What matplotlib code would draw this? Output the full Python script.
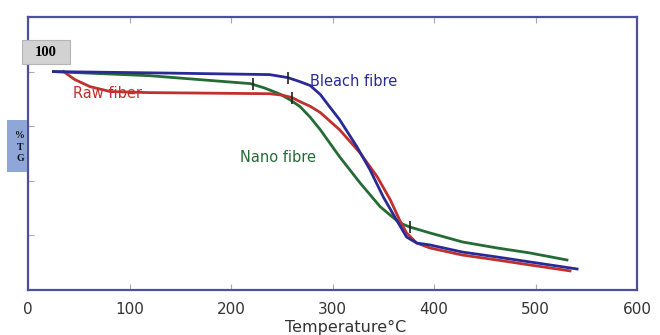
import matplotlib.pyplot as plt
from matplotlib.patches import Rectangle

plt.rcParams['font.family'] = ['DejaVu Sans']

# Bleach fibre
bleach_T = [25, 130, 238, 256, 268, 278, 288, 297, 307, 324, 337, 350, 363, 373, 383, 396, 428, 462, 494, 541]
bleach_w = [100, 99.5, 98.9, 97.8, 96.3, 94.9, 91.6, 87.2, 82.4, 72.5, 64.0, 54.1, 45.7, 39.4, 37.2, 36.5, 33.9, 32.1, 30.3, 27.7]

# Raw fiber
raw_T = [35, 46, 61, 81, 120, 238, 250, 260, 268, 278, 288, 307, 327, 344, 357, 366, 373, 383, 396, 428, 462, 494, 534]
raw_w = [100, 97.1, 94.5, 92.7, 92.3, 91.9, 91.4, 90.5, 89.0, 87.3, 85.0, 78.7, 70.3, 61.5, 53.0, 45.7, 40.9, 37.2, 35.4, 32.8, 31.0, 29.2, 27.0]

# Nano fibre
nano_T = [25, 120, 219, 233, 248, 258, 268, 278, 288, 307, 327, 347, 366, 376, 396, 428, 462, 494, 531]
nano_w = [100, 98.5, 95.6, 94.0, 91.8, 89.7, 87.2, 83.3, 78.7, 68.8, 59.3, 50.5, 44.6, 43.1, 40.9, 37.6, 35.4, 33.6, 31.0]

# small onset marks drawn on the curves
mark_T = [256, 222, 260, 376]
mark_w = [97.8, 95.3, 90.5, 43.1]

xticks = [0, 100, 200, 300, 400, 500, 600]
yticks = [40, 60, 80, 100]

fig = plt.figure(figsize=(6.6, 3.35), dpi=100)
ax = fig.add_axes([28/660, 1-290/335, 609/660, 273/335])

blue = '#2a2a96'
red = '#c0302e'
green = '#256b35'

ax.plot(nano_T, nano_w, color=green, lw=2)
ax.plot(raw_T, raw_w, color=red, lw=2)
ax.plot(bleach_T, bleach_w, color=blue, lw=2)
ax.plot(mark_T, mark_w, ls='none', marker='|', ms=8, mew=1.2, color='#222222')

ax.text(278, 96.3, 'Bleach fibre', color=blue, fontsize=10.5, va='center')
ax.text(44, 92.0, 'Raw fiber', color=red, fontsize=10.5, va='center')
ax.text(209, 68.6, 'Nano fibre', color=green, fontsize=10.5, va='center')

ax.set_xlim(0, 600)
ax.set_ylim(20, 120)
ax.set_xticks(xticks)
ax.set_yticks(yticks)
ax.set_yticklabels([])
ax.tick_params(direction='in', length=4, color='#aaaaaa', top=True, labelsize=11, labelcolor='#333333', pad=9)
for s in ax.spines.values():
    s.set_color('#4f4fa0')
    s.set_linewidth(1.6)
ax.set_xlabel('Temperature°C', fontsize=11.5, color='#333333')
ax.xaxis.set_label_coords(0.522, -0.11)

fig.patches.append(Rectangle((22/660, 1-64/335), 48/660, 24/335, transform=fig.transFigure,
                             fc='#d2d2d2', ec='#b5b5b5', lw=0.8, zorder=5))
fig.text(46/660, 1-52/335, '100', fontsize=10.5, fontweight='bold', family='Liberation Serif',
         ha='center', va='center', zorder=6)
fig.patches.append(Rectangle((7/660, 1-172/335), 20/660, 52/335, transform=fig.transFigure,
                             fc='#8ea6d8', ec='none', zorder=5))
fig.text(20/660, 1-147/335, '%\nT\nG', fontsize=7, fontweight='bold', family='Liberation Serif',
         ha='center', va='center', linespacing=1.4, color='#111111', zorder=6)

fig.savefig('out.png', dpi=100)
